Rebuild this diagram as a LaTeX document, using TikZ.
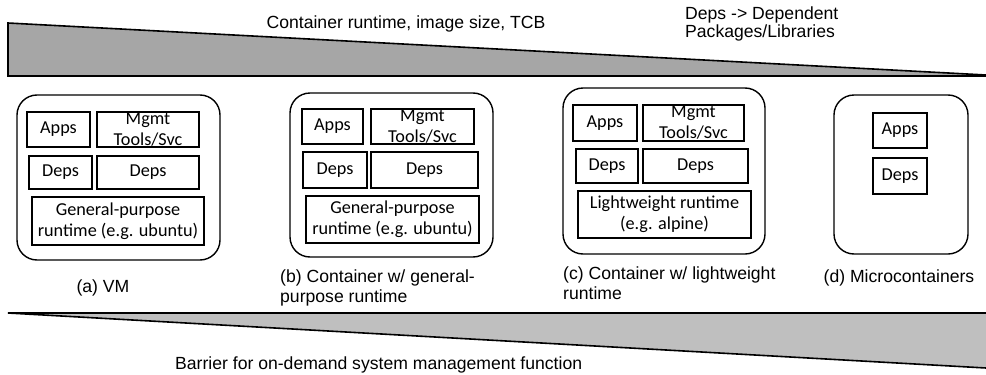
\documentclass[tikz,border=0pt]{standalone}
\usepackage{fontspec}
\setmainfont{Liberation Sans}
\newfontfamily\boxfont{Carlito}
\definecolor{topgray}{HTML}{A6A6A6}
\definecolor{botgray}{HTML}{BFBFBF}
\begin{document}
\begin{tikzpicture}[x=1pt, y=-1pt,
  wedgeline/.style={line width=1.6pt, line join=miter},
  outerbox/.style={draw, line width=1.4pt, rounded corners=20pt, inner sep=0pt},
  layer/.style={draw, line width=1.2pt, inner sep=0pt, align=center,
    font=\boxfont\fontsize{18.2}{21}\selectfont},
  caption/.style={inner sep=0pt, font=\fontsize{17.6}{20}\selectfont},
]
\useasboundingbox (0,0) rectangle (986,375);

% decreasing wedge: runtime, image size, TCB
\fill[topgray] (8,23) -- (986,75) -- (986,76) -- (8,76) -- cycle;
\draw[wedgeline] (986,75) -- (8,23) -- (8,76) -- (986,76);
\node[caption, anchor=base] (topcap) at (406,28) {Container runtime, image size, TCB};
\node[caption, anchor=north west, align=left, font=\fontsize{17.6}{18}\selectfont]
  (depsnote) at (685,7) {Deps -> Dependent\\Packages/Libraries};

% (a) VM
\node[outerbox, minimum width=203pt, minimum height=165pt] (vm) at (118.5,177.5) {};
\node[layer, minimum width=63pt, minimum height=35pt] (vmapps) at (58.5,129.5) {Apps};
\node[layer, minimum width=102pt, minimum height=35pt] (vmmgmt) at (148,129.5) {Mgmt\\Tools/Svc};
\node[layer, minimum width=63pt, minimum height=33pt] (vmdepsa) at (60.5,172.5) {Deps};
\node[layer, minimum width=102pt, minimum height=33pt] (vmdepsb) at (148,172.5) {Deps};
\node[layer, minimum width=172pt, minimum height=48pt] (vmrt) at (118,221) {General-purpose\\runtime (e.g. ubuntu)};
\node[caption, anchor=base] (vmcap) at (103,292) {(a) VM};

% (b) container with general-purpose runtime
\node[outerbox, minimum width=203pt, minimum height=164pt] (gp) at (391.5,175) {};
\node[layer, minimum width=61pt, minimum height=35pt] (gpapps) at (332.5,126.5) {Apps};
\node[layer, minimum width=103pt, minimum height=35pt] (gpmgmt) at (422.5,126.5) {Mgmt\\Tools/Svc};
\node[layer, minimum width=64pt, minimum height=36pt] (gpdepsa) at (335,170) {Deps};
\node[layer, minimum width=107pt, minimum height=36pt] (gpdepsb) at (424.5,170) {Deps};
\node[layer, minimum width=173pt, minimum height=47pt] (gprt) at (392.5,219.5) {General-purpose\\runtime (e.g. ubuntu)};
\node[caption, anchor=north west, align=left] (gpcap) at (280,270) {(b) Container w/ general-\\purpose runtime};

% (c) container with lightweight runtime
\node[outerbox, minimum width=202pt, minimum height=166pt] (lw) at (664,171) {};
\node[layer, minimum width=64pt, minimum height=36pt] (lwapps) at (605,123) {Apps};
\node[layer, minimum width=101pt, minimum height=36pt] (lwmgmt) at (693.5,123) {Mgmt\\Tools/Svc};
\node[layer, minimum width=62pt, minimum height=34pt] (lwdepsa) at (607,166) {Deps};
\node[layer, minimum width=105pt, minimum height=34pt] (lwdepsb) at (695.5,166) {Deps};
\node[layer, minimum width=173pt, minimum height=47pt] (lwrt) at (664.5,214.5) {Lightweight runtime\\(e.g. alpine)};
\node[caption, anchor=north west, align=left] (lwcap) at (563,267) {(c) Container w/ lightweight\\runtime};

% (d) microcontainers
\node[outerbox, minimum width=134pt, minimum height=159pt] (mc) at (901,174.5) {};
\node[layer, minimum width=54pt, minimum height=35pt] (mcapps) at (900,130.5) {Apps};
\node[layer, minimum width=54pt, minimum height=36pt] (mcdeps) at (900,176) {Deps};
\node[caption, anchor=base] (mccap) at (899,282) {(d) Microcontainers};

% increasing wedge: barrier for on-demand management
\fill[botgray] (8,313) -- (986,313) -- (986,368) -- cycle;
\draw[wedgeline] (986,313) -- (8,313) -- (986,368);
\node[caption, anchor=base west] (barrier) at (175,369) {Barrier for on-demand system management function};
\end{tikzpicture}
\end{document}
